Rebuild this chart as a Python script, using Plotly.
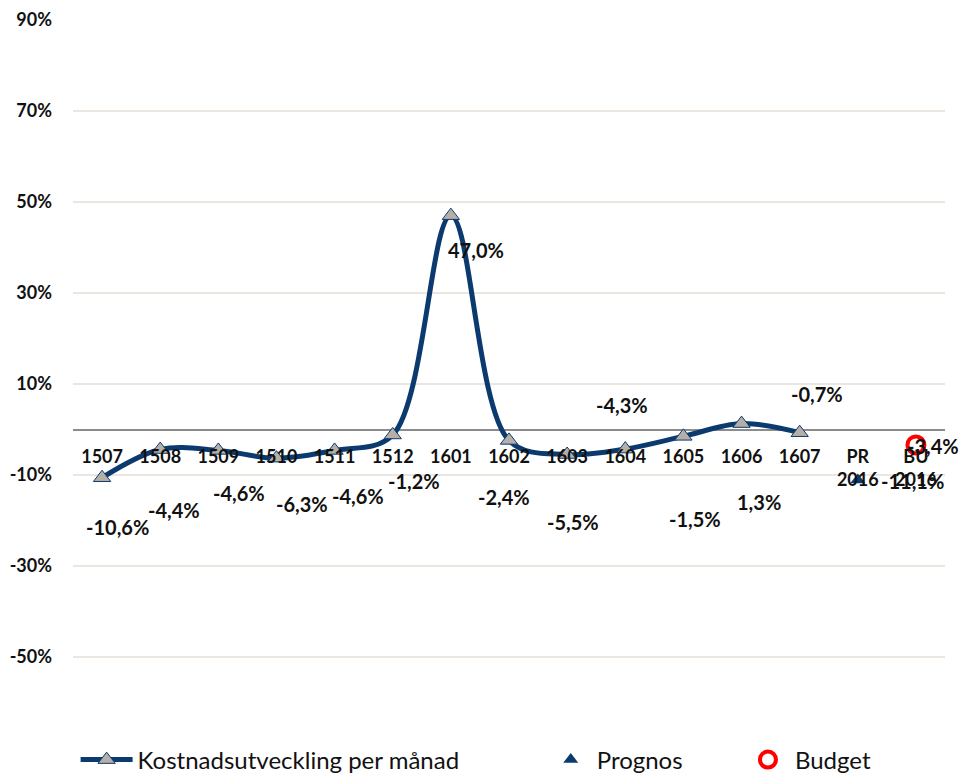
import plotly.graph_objects as go

categories = ["1507", "1508", "1509", "1510", "1511", "1512", "1601", "1602",
              "1603", "1604", "1605", "1606", "1607", "PR<br>2016", "BU<br>2016"]
monthly = [-10.6, -4.4, -4.6, -6.3, -4.6, -1.2, 47.0, -2.4, -5.5, -4.3, -1.5, 1.3, -0.7]
prognos_cat = ["PR<br>2016"]
prognos_val = [-11.1]
budget_cat = ["BU<br>2016"]
budget_val = [-3.4]
ytick_vals = [-50, -30, -10, 10, 30, 50, 70, 90]

# label offsets (px) for data labels (style only)
label_offsets = [(15, -49), (14, -60), (21, -43), (26, -46), (23, -46), (21, -46),
                 (25, -34), (-5, -57), (6, -67), (-3, 44), (12, -83), (17, -78), (17, 39)]

NAVY = "#0B3A6E"
FONT = "Lato"
LBL = dict(family=FONT, size=20, color="#111111", weight="bold")

def fmt(v):
    return f"{v:.1f}".replace(".", ",") + "%"

fig = go.Figure()
fig.add_trace(go.Scatter(
    x=categories[:len(monthly)], y=monthly, mode="lines+markers",
    name="Kostnadsutveckling per månad",
    line=dict(color=NAVY, width=5, shape="spline", smoothing=1.0),
    marker=dict(symbol="triangle-up", size=15, color="#B5AFA8",
                line=dict(color=NAVY, width=1)),
    legend="legend",
))
fig.add_trace(go.Scatter(
    x=prognos_cat, y=prognos_val, mode="markers", name="Prognos",
    marker=dict(symbol="triangle-up", size=13, color=NAVY),
    legend="legend2",
))
fig.add_trace(go.Scatter(
    x=budget_cat, y=budget_val, mode="markers", name="Budget",
    marker=dict(symbol="circle-open", size=17, color="#FF0000",
                line=dict(color="#FF0000", width=4)),
    legend="legend3",
))

annotations = []
for i, (v, (dx, dy)) in enumerate(zip(monthly, label_offsets)):
    annotations.append(dict(x=i, y=v, xref="x", yref="y", text=fmt(v),
                            showarrow=False, xshift=dx, yshift=dy, font=LBL))
annotations.append(dict(x=categories.index(prognos_cat[0]), y=prognos_val[0], xref="x", yref="y",
                        text=fmt(prognos_val[0]), showarrow=False, xshift=55, yshift=-1, font=LBL))
annotations.append(dict(x=categories.index(budget_cat[0]), y=budget_val[0], xref="x", yref="y",
                        text=fmt(budget_val[0]), showarrow=False, xshift=17, yshift=-1, font=LBL))

LEG_FONT = dict(family=FONT, size=24, color="#111111")
LEG_Y = -0.0165
fig.update_layout(
    width=961, height=774,
    margin=dict(l=73, r=16, t=20, b=26, autoexpand=False),
    plot_bgcolor="white", paper_bgcolor="white",
    font=dict(family=FONT, color="#111111"),
    annotations=annotations,
    legend=dict(orientation="h", x=0.003, y=LEG_Y, xanchor="left", yanchor="middle",
                font=LEG_FONT, itemwidth=52, bgcolor="rgba(0,0,0,0)"),
    legend2=dict(orientation="h", x=0.541, y=LEG_Y, xanchor="left", yanchor="middle",
                 font=LEG_FONT, itemwidth=42, bgcolor="rgba(0,0,0,0)"),
    legend3=dict(orientation="h", x=0.766, y=LEG_Y, xanchor="left", yanchor="middle",
                 font=LEG_FONT, itemwidth=44, bgcolor="rgba(0,0,0,0)"),
    showlegend=True,
)
fig.update_xaxes(
    type="category", categoryorder="array", categoryarray=categories,
    range=[-0.5, len(categories) - 0.5],
    anchor="free", position=70 / 160,
    showgrid=False, showline=False, zeroline=False, ticks="",
    ticklabelstandoff=14,
    tickfont=dict(family=FONT, size=18, color="#111111", weight="bold"),
)
fig.update_yaxes(
    range=[-70, 90], tickvals=ytick_vals,
    ticktext=[f"{v}%" for v in ytick_vals],
    showgrid=True, gridcolor="#EBE6E0", gridwidth=2,
    zeroline=True, zerolinecolor="#8C8C8C", zerolinewidth=1.5,
    showline=False, ticks="", ticklabelstandoff=20,
    tickfont=dict(family=FONT, size=18, color="#111111", weight="bold"),
)

fig.write_html("out.html")
